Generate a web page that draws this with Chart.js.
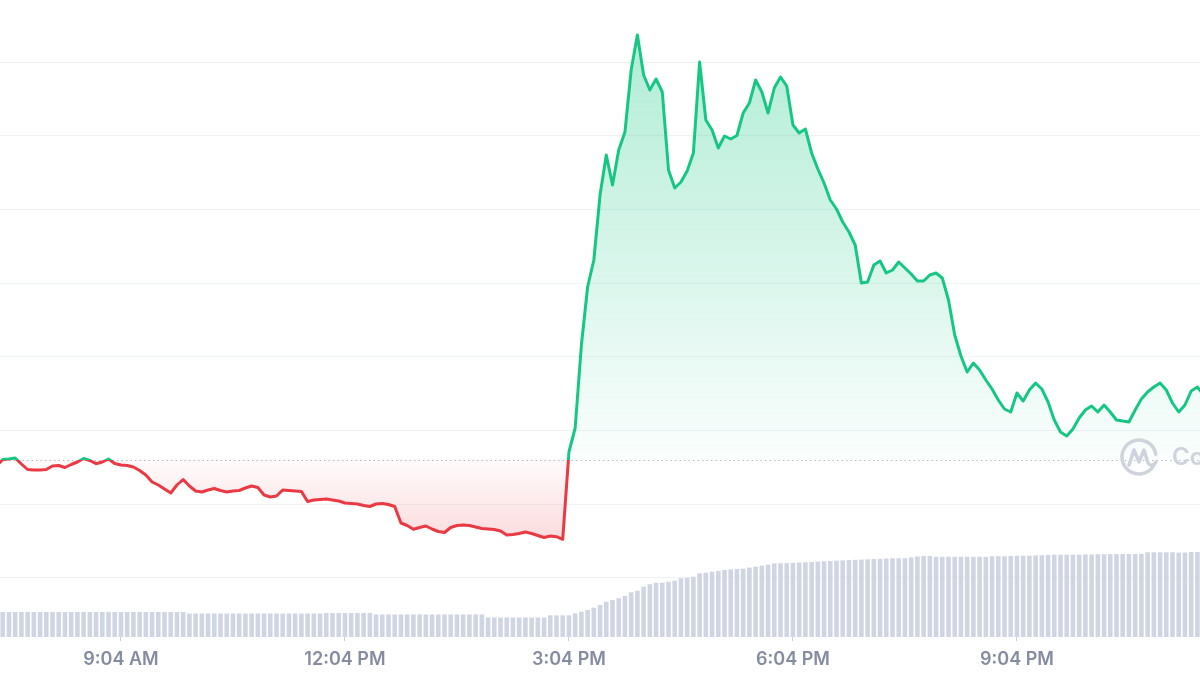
<!DOCTYPE html>
<html lang="en">
<head>
    <meta charset="UTF-8">
    <title>Price chart</title>
    <script src="https://cdn.jsdelivr.net/npm/chart.js@4/dist/chart.umd.min.js"></script>
    <style>
        body {
            margin: 0;
            background: #ffffff;
        }
        #wrap {
            width: 1200px;
            height: 675px;
        }
    </style>
</head>
<body>
    <div id="wrap">
        <canvas id="chart" width="1200" height="675"></canvas>
    </div>

    <script>
        // 5-minute candles, first one at 7:24 AM (minutes since midnight)
        const START_MIN = 444;
        const STEP_MIN = 5;

        // visible time window (minutes since midnight)
        const X_MIN = 446.8;
        const X_MAX = 1411.1;

        const TICK_TIMES = [544, 724, 904, 1084, 1264];
        const TICK_LABELS = ['9:04 AM', '12:04 PM', '3:04 PM', '6:04 PM', '9:04 PM'];

        // opening price of the period (dotted line, green above / red below)
        const BASE = 17.70;

        // horizontal grid lines
        const GRID_VALUES = [5.93, 13.3, 20.66, 28.03, 35.4, 42.77, 50.13, 57.5];

        const PRICES = [
            17.10, 17.75, 17.80, 17.90, 17.30, 16.75, 16.70, 16.70, 16.75, 17.10,
            17.15, 16.95, 17.25, 17.50, 17.85, 17.65, 17.33, 17.50, 17.80, 17.35,
            17.20, 17.15, 17.00, 16.65, 16.20, 15.50, 15.20, 14.80, 14.40, 15.20,
            15.75, 15.10, 14.60, 14.50, 14.70, 14.85, 14.65, 14.50, 14.60, 14.65,
            14.90, 15.10, 14.95, 14.20, 14.00, 14.10, 14.70, 14.65, 14.60, 14.55,
            13.55, 13.70, 13.75, 13.80, 13.70, 13.60, 13.40, 13.35, 13.30, 13.15,
            13.05, 13.30, 13.35, 13.25, 13.05, 11.40, 11.15, 10.77, 10.95, 11.10,
            10.80, 10.55, 10.45, 10.95, 11.15, 11.20, 11.15, 11.00, 10.85, 10.80,
            10.75, 10.60, 10.20, 10.25, 10.35, 10.50, 10.35, 10.15, 9.95, 10.10,
            10.03, 9.77, 18.50, 20.90, 29.20, 35.00, 37.70, 44.20, 48.20, 45.20,
            48.70, 50.50, 56.70, 60.20, 56.20, 54.70, 55.80, 54.50, 46.70, 44.90,
            45.50, 46.60, 48.40, 57.50, 51.70, 50.70, 48.90, 50.10, 49.80, 50.15,
            52.40, 53.40, 55.70, 54.50, 52.40, 54.90, 56.00, 55.10, 51.20, 50.40,
            50.80, 48.40, 46.80, 45.40, 43.70, 42.80, 41.50, 40.50, 39.20, 35.40,
            35.50, 37.20, 37.60, 36.40, 36.70, 37.50, 36.90, 36.30, 35.60, 35.60,
            36.20, 36.40, 35.90, 33.70, 30.20, 28.10, 26.50, 27.40, 26.70, 25.70,
            24.80, 23.70, 22.80, 22.50, 24.40, 23.60, 24.70, 25.40, 24.80, 23.50,
            21.70, 20.50, 20.10, 20.80, 21.90, 22.70, 23.10, 22.50, 23.20, 22.50,
            21.70, 21.60, 21.50, 22.70, 23.80, 24.50, 25.00, 25.40, 24.70, 23.40,
            22.50, 23.20, 24.60, 25.00, 24.20
        ];

        // 24h volume, millions
        const VOLUMES = [
            19.6, 19.6, 19.6, 19.6, 19.6, 19.6, 19.6, 19.6, 19.6, 19.6,
            19.6, 19.6, 19.6, 19.6, 19.6, 19.6, 19.6, 19.6, 19.6, 19.6,
            19.6, 19.6, 19.6, 19.6, 19.6, 19.6, 19.6, 19.6, 19.6, 19.6,
            19.6, 18.4, 18.4, 18.4, 18.4, 18.4, 18.4, 18.4, 18.4, 18.4,
            18.4, 18.4, 18.4, 18.4, 18.4, 18.4, 18.4, 18.4, 18.4, 18.4,
            18.4, 18.4, 18.4, 18.8, 18.8, 18.8, 18.8, 18.8, 18.8, 18.8,
            18.8, 17.7, 17.7, 17.7, 17.7, 17.7, 17.7, 17.7, 17.7, 17.7,
            17.7, 17.7, 17.7, 17.7, 17.7, 17.7, 17.7, 17.7, 17.7, 15.3,
            15.3, 15.3, 15.3, 15.3, 15.3, 15.3, 15.3, 15.3, 15.3, 17.0,
            17.0, 17.0, 17.0, 18.6, 19.9, 21.2, 23.0, 25.1, 27.7, 29.0,
            30.4, 32.2, 35.1, 36.3, 39.5, 41.4, 42.6, 42.6, 43.4, 44.2,
            46.1, 46.5, 47.3, 50.0, 50.5, 51.3, 51.8, 52.6, 53.1, 53.4,
            53.6, 54.5, 55.2, 56.0, 56.8, 57.8, 57.9, 58.0, 58.2, 58.4,
            58.6, 58.9, 59.2, 59.5, 59.7, 59.9, 60.1, 60.4, 60.6, 60.8,
            61.0, 61.2, 61.4, 61.6, 61.8, 61.8, 61.8, 62.5, 63.2, 63.6,
            63.6, 63.0, 63.0, 63.0, 63.0, 63.0, 63.0, 63.0, 63.0, 63.0,
            63.4, 63.4, 63.4, 63.6, 63.8, 63.8, 63.8, 64.0, 64.2, 64.4,
            64.6, 64.6, 64.6, 64.6, 64.6, 64.8, 64.8, 65.0, 65.0, 65.1,
            65.1, 65.1, 65.1, 65.1, 65.3, 66.5, 66.5, 66.5, 66.5, 66.5,
            66.3, 66.3, 66.7, 66.7, 66.7
        ];

        const TIMES = PRICES.map((_, i) => START_MIN + i * STEP_MIN);

        const GREEN = '#16c784';
        const RED = '#ea3943';

        Chart.defaults.font.family = 'Inter, "Noto Sans", sans-serif';

        function baseY(chart) {
            return chart.scales.y.getPixelForValue(BASE);
        }

        // stroke: green above the opening price, red below
        function lineColor(context) {
            const chart = context.chart;
            const area = chart.chartArea;
            if (!area || !chart.scales.y) return GREEN;
            const g = chart.ctx.createLinearGradient(0, area.top, 0, area.bottom);
            const f = Math.min(1, Math.max(0, (baseY(chart) - area.top) / (area.bottom - area.top)));
            g.addColorStop(0, GREEN);
            g.addColorStop(f, GREEN);
            g.addColorStop(f, RED);
            g.addColorStop(1, RED);
            return g;
        }

        function areaFill(context) {
            const chart = context.chart;
            const area = chart.chartArea;
            if (!area || !chart.scales.y) {
                return { target: { value: BASE }, above: 'rgba(22,199,132,0.15)', below: 'rgba(234,57,67,0.1)' };
            }
            const yb = baseY(chart);
            const up = chart.ctx.createLinearGradient(0, area.top, 0, yb);
            up.addColorStop(0, 'rgba(22,199,132,0.36)');
            up.addColorStop(1, 'rgba(22,199,132,0.02)');
            const down = chart.ctx.createLinearGradient(0, yb, 0, yb + 100);
            down.addColorStop(0, 'rgba(234,57,67,0.02)');
            down.addColorStop(1, 'rgba(234,57,67,0.22)');
            return { target: { value: BASE }, above: up, below: down };
        }

        // dotted line at the opening price
        const baseLinePlugin = {
            id: 'baseLine',
            beforeDatasetsDraw(chart) {
                const { ctx, chartArea } = chart;
                const y = Math.round(baseY(chart)) + 0.5;
                ctx.save();
                ctx.strokeStyle = '#b5bbc6';
                ctx.lineWidth = 1;
                ctx.setLineDash([1.5, 3]);
                ctx.beginPath();
                ctx.moveTo(chartArea.left, y);
                ctx.lineTo(chartArea.right, y);
                ctx.stroke();
                ctx.restore();
            }
        };

        // CoinMarketCap watermark, cut by the right edge
        const watermarkPlugin = {
            id: 'watermark',
            afterDatasetsDraw(chart) {
                const ctx = chart.ctx;
                const cx = 1139, cy = 457, r = 17;
                ctx.save();
                ctx.strokeStyle = '#cfd3dc';
                ctx.lineWidth = 3.5;
                ctx.lineCap = 'round';
                ctx.lineJoin = 'round';
                ctx.beginPath();
                ctx.arc(cx, cy, r, 0.15 * Math.PI, 1.95 * Math.PI);
                ctx.stroke();
                ctx.beginPath();
                ctx.moveTo(cx - 10, cy + 8);
                ctx.lineTo(cx - 5, cy - 7);
                ctx.lineTo(cx, cy + 5);
                ctx.lineTo(cx + 5, cy - 7);
                ctx.lineTo(cx + 9, cy + 6);
                ctx.quadraticCurveTo(cx + 13, cy + 11, cx + 17, cy + 5);
                ctx.stroke();
                ctx.fillStyle = '#cfd3dc';
                ctx.font = '600 24px Inter, sans-serif';
                ctx.textBaseline = 'middle';
                ctx.fillText('CoinMarketCap', 1172, cy + 1);
                ctx.restore();
            }
        };

        new Chart(document.getElementById('chart'), {
            type: 'line',
            data: {
                labels: TIMES,
                datasets: [
                    {
                        type: 'line',
                        label: 'Price',
                        data: PRICES,
                        yAxisID: 'y',
                        borderColor: lineColor,
                        borderWidth: 3,
                        borderJoinStyle: 'round',
                        pointRadius: 0,
                        tension: 0,
                        fill: areaFill,
                        order: 1
                    },
                    {
                        type: 'bar',
                        label: 'Volume',
                        data: VOLUMES,
                        yAxisID: 'yv',
                        backgroundColor: '#cfd5e2',
                        barPercentage: 0.74,
                        categoryPercentage: 1,
                        order: 2
                    }
                ]
            },
            options: {
                responsive: false,
                animation: false,
                layout: { padding: 0 },
                plugins: {
                    legend: { display: false },
                    tooltip: { enabled: false }
                },
                scales: {
                    x: {
                        type: 'linear',
                        min: X_MIN,
                        max: X_MAX,
                        offset: false,
                        afterBuildTicks: (axis) => {
                            axis.ticks = TICK_TIMES.map(v => ({ value: v }));
                        },
                        afterFit: (axis) => {
                            axis.height = 38;
                        },
                        grid: {
                            offset: false,
                            drawOnChartArea: false,
                            drawTicks: true,
                            tickLength: 4,
                            color: '#c9ced8'
                        },
                        border: { display: false },
                        ticks: {
                            autoSkip: false,
                            maxRotation: 0,
                            padding: 8,
                            color: '#858ca2',
                            font: { size: 18, weight: '600' },
                            callback: (value) => TICK_LABELS[TICK_TIMES.indexOf(value)]
                        }
                    },
                    y: {
                        min: 0,
                        max: 63.7,
                        afterBuildTicks: (axis) => {
                            axis.ticks = GRID_VALUES.map(v => ({ value: v }));
                        },
                        afterFit: (axis) => {
                            axis.width = 0;
                        },
                        grid: {
                            color: '#eff2f5',
                            drawTicks: false
                        },
                        border: { display: false },
                        ticks: { display: false }
                    },
                    yv: {
                        display: false,
                        min: 0,
                        max: 500
                    }
                }
            },
            plugins: [baseLinePlugin, watermarkPlugin]
        });
    </script>
</body>
</html>
